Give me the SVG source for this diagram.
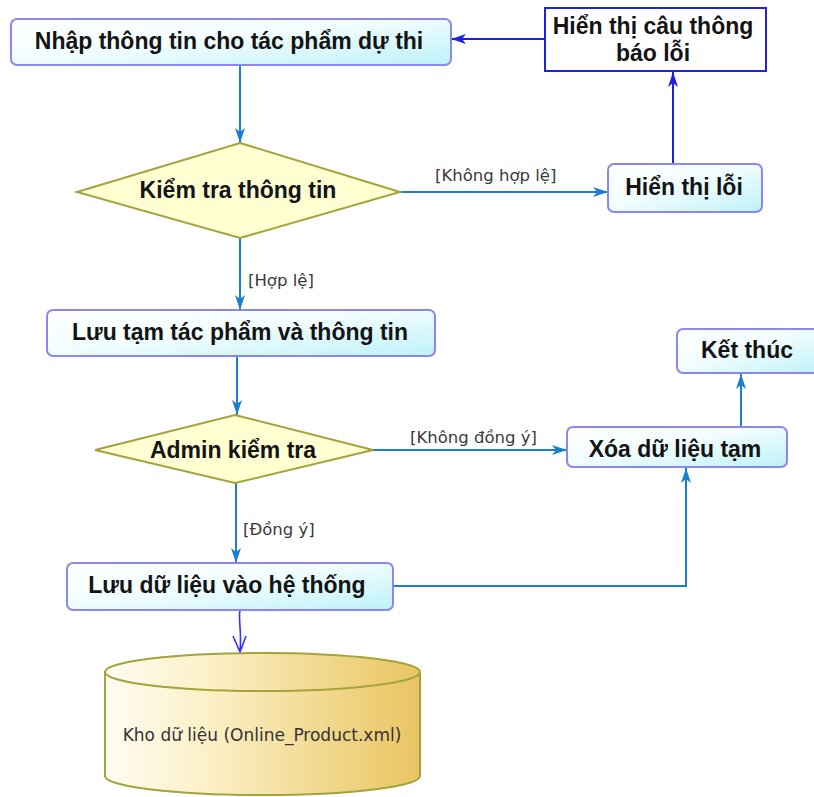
<svg xmlns="http://www.w3.org/2000/svg" width="814" height="797" viewBox="0 0 814 797">
<defs>
<linearGradient id="boxg" x1="0" y1="0" x2="1" y2="1">
<stop offset="0" stop-color="#ffffff"/>
<stop offset="0.45" stop-color="#f2fdff"/>
<stop offset="1" stop-color="#bdf2f8"/>
</linearGradient>
<linearGradient id="cylg" x1="0" y1="0" x2="1" y2="0">
<stop offset="0" stop-color="#fffdf2"/>
<stop offset="0.35" stop-color="#fcefc4"/>
<stop offset="1" stop-color="#e9c461"/>
</linearGradient>
<marker id="ah" markerWidth="16" markerHeight="12" refX="15" refY="6" orient="auto" markerUnits="userSpaceOnUse">
<path d="M0,1 L15,6 L0,11 L4,6 z" fill="#1a7fd0"/>
</marker>
<marker id="ahd" markerWidth="16" markerHeight="12" refX="15" refY="6" orient="auto" markerUnits="userSpaceOnUse">
<path d="M0,1 L15,6 L0,11 L4,6 z" fill="#1f1fe6"/>
</marker>
<style>
.box{fill:url(#boxg);stroke:#8c86f2;stroke-width:2}
.dia{fill:#ffffd2;stroke:#a5a33c;stroke-width:2}
.t{font-family:"Liberation Sans",Arial,sans-serif;font-weight:bold;font-size:23px;fill:#141414;text-anchor:middle}
.lbl{font-family:"DejaVu Sans",Verdana,sans-serif;font-size:16.5px;fill:#3a3a3a}
.c{fill:none;stroke:#1a7fd0;stroke-width:2}
.cd{fill:none;stroke:#1f1fe6;stroke-width:2}
</style>
</defs>

<g id="connectors">
<line class="c" x1="240" y1="65" x2="240" y2="143" marker-end="url(#ah)"/>
<line class="c" x1="400" y1="192" x2="608" y2="192" marker-end="url(#ah)"/>
<line class="cd" x1="673" y1="164" x2="673" y2="72" marker-end="url(#ahd)"/>
<line class="cd" x1="545" y1="39" x2="451" y2="39" marker-end="url(#ahd)"/>
<line class="c" x1="240" y1="238" x2="240" y2="310" marker-end="url(#ah)"/>
<line class="c" x1="237" y1="356" x2="237" y2="415" marker-end="url(#ah)"/>
<line class="c" x1="373" y1="450" x2="567" y2="450" marker-end="url(#ah)"/>
<line class="c" x1="741" y1="427" x2="741" y2="374" marker-end="url(#ah)"/>
<line class="c" x1="236" y1="483" x2="236" y2="563" marker-end="url(#ah)"/>
<polyline class="c" points="393,586 686,586 686,468" marker-end="url(#ah)"/>
<path d="M240,610 C238,620 242,630 240,652 M233,636 L240,652 L246,636" fill="none" stroke="#3333ff" stroke-width="1.6"/>
<text class="lbl" x="435" y="181">[Không hợp lệ]</text>
<text class="lbl" x="248" y="286">[Hợp lệ]</text>
<text class="lbl" x="410" y="443">[Không đồng ý]</text>
<text class="lbl" x="243" y="535">[Đồng ý]</text>
</g>

<g id="n-nhap">
<rect class="box" x="11" y="19" width="440" height="46" rx="6"/>
<text class="t" x="229" y="49">Nhập thông tin cho tác phẩm dự thi</text>
</g>

<g id="n-thongbao">
<rect x="545" y="8" width="221" height="63" fill="#ffffff" stroke="#1f1fe6" stroke-width="2"/>
<text class="t" x="653" y="34">Hiển thị câu thông</text>
<text class="t" x="653" y="61">báo lỗi</text>
</g>

<g id="d-kiemtra">
<polygon class="dia" points="240,143 400,192 240,238 77,192"/>
<text class="t" x="238" y="198">Kiểm tra thông tin</text>
</g>

<g id="n-hienthiloi">
<rect class="box" x="608" y="164" width="154" height="48" rx="6"/>
<text class="t" x="684" y="195">Hiển thị lỗi</text>
</g>

<g id="n-luutam">
<rect class="box" x="47" y="310" width="388" height="46" rx="6"/>
<text class="t" x="240" y="340">Lưu tạm tác phẩm và thông tin</text>
</g>

<g id="d-admin">
<polygon class="dia" points="235,415 373,450 235,483 95,450"/>
<text class="t" x="233" y="458">Admin kiểm tra</text>
</g>

<g id="n-xoa">
<rect class="box" x="567" y="427" width="220" height="40" rx="6"/>
<text class="t" x="675" y="457">Xóa dữ liệu tạm</text>
</g>

<g id="n-ketthuc">
<rect class="box" x="677" y="329" width="145" height="44" rx="6"/>
<text class="t" x="747" y="358">Kết thúc</text>
</g>

<g id="n-luudulieu">
<rect class="box" x="67" y="563" width="326" height="47" rx="6"/>
<text class="t" x="227" y="593">Lưu dữ liệu vào hệ thống</text>
</g>

<g id="db-kho">
<path d="M105,672 L105,776 A157.5,19 0 0 0 420,776 L420,672 A157.5,19 0 0 0 105,672 Z" fill="url(#cylg)" stroke="#a5a33c" stroke-width="2"/>
<path d="M105,672 A157.5,19 0 0 0 420,672" fill="none" stroke="#a5a33c" stroke-width="2"/>
<text x="262" y="741" font-family="DejaVu Sans, Verdana, sans-serif" font-size="17" fill="#333" text-anchor="middle">Kho dữ liệu (Online_Product.xml)</text>
</g>
</svg>
